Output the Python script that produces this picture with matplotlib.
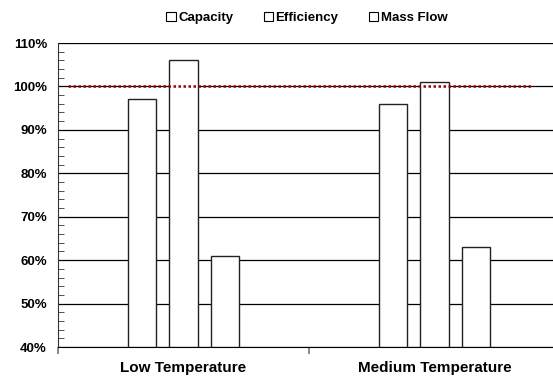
import matplotlib
matplotlib.use('Agg')
from matplotlib import pyplot as plt
from matplotlib.patches import Rectangle
import numpy as np

categories = ['Low Temperature', 'Medium Temperature']
series = ['Capacity', 'Efficiency', 'Mass Flow']
capacity = [97, 96]
efficiency = [106, 101]
mass_flow = [61, 63]
y_ticks = [40, 50, 60, 70, 80, 90, 100, 110]

plt.rcParams['font.family'] = ['Liberation Sans', 'DejaVu Sans']
plt.rcParams['font.weight'] = 'bold'

fig = plt.figure(figsize=(5.53, 3.79), dpi=100)
# plot area runs a little past the right edge of the figure
ax = fig.add_axes([58 / 553, 1 - 347 / 379, 502 / 553, (347 - 43) / 379])

x = np.arange(len(categories))
width = 0.112
step = 0.167
for i, (name, vals) in enumerate(zip(series, [capacity, efficiency, mass_flow])):
    ax.bar(x + (i - 1) * step, [v - 40 for v in vals], width, bottom=40,
           color='white', edgecolor='#222222', linewidth=1.0, zorder=3, label=name)

for y in y_ticks:
    ax.axhline(y, color='black', linewidth=0.9, zorder=1)

ax.axhline(100, xmin=10 / 502, xmax=475 / 502, color='#990000', linewidth=1.8,
           linestyle=(0, (1, 1)), zorder=4)

ax.set_xlim(-0.5, 1.5)
ax.set_ylim(40, 110)
ax.set_yticks(y_ticks)
ax.set_yticklabels([f'{y}%' for y in y_ticks], fontsize=9.5, fontweight='bold')
ax.set_yticks(np.arange(40, 111, 2), minor=True)
ax.tick_params(axis='y', which='major', length=0, pad=8)
ax.tick_params(axis='y', which='minor', direction='in', length=4, color='#333333')

ax.set_xticks(x)
ax.set_xticklabels(categories, fontsize=11, fontweight='bold')
ax.set_xticks([-0.5, 0.5], minor=True)
ax.tick_params(axis='x', which='major', length=0, pad=10)
ax.tick_params(axis='x', which='minor', length=5, color='#777777', width=1.2)

for s in ['top', 'right']:
    ax.spines[s].set_visible(False)
ax.spines['left'].set_color('#333333')
ax.spines['bottom'].set_color('black')

handles = [Rectangle((0, 0), 1, 1, facecolor='white', edgecolor='black', linewidth=0.8)
           for _ in series]
fig.legend(handles, series, loc='upper center', bbox_to_anchor=(0.555, 1.0), ncol=3,
           frameon=False, prop={'size': 9.5, 'weight': 'bold'}, handlelength=0.7,
           handleheight=0.7, handletextpad=0.2, columnspacing=2.3)

fig.savefig('out.png', dpi=100)
